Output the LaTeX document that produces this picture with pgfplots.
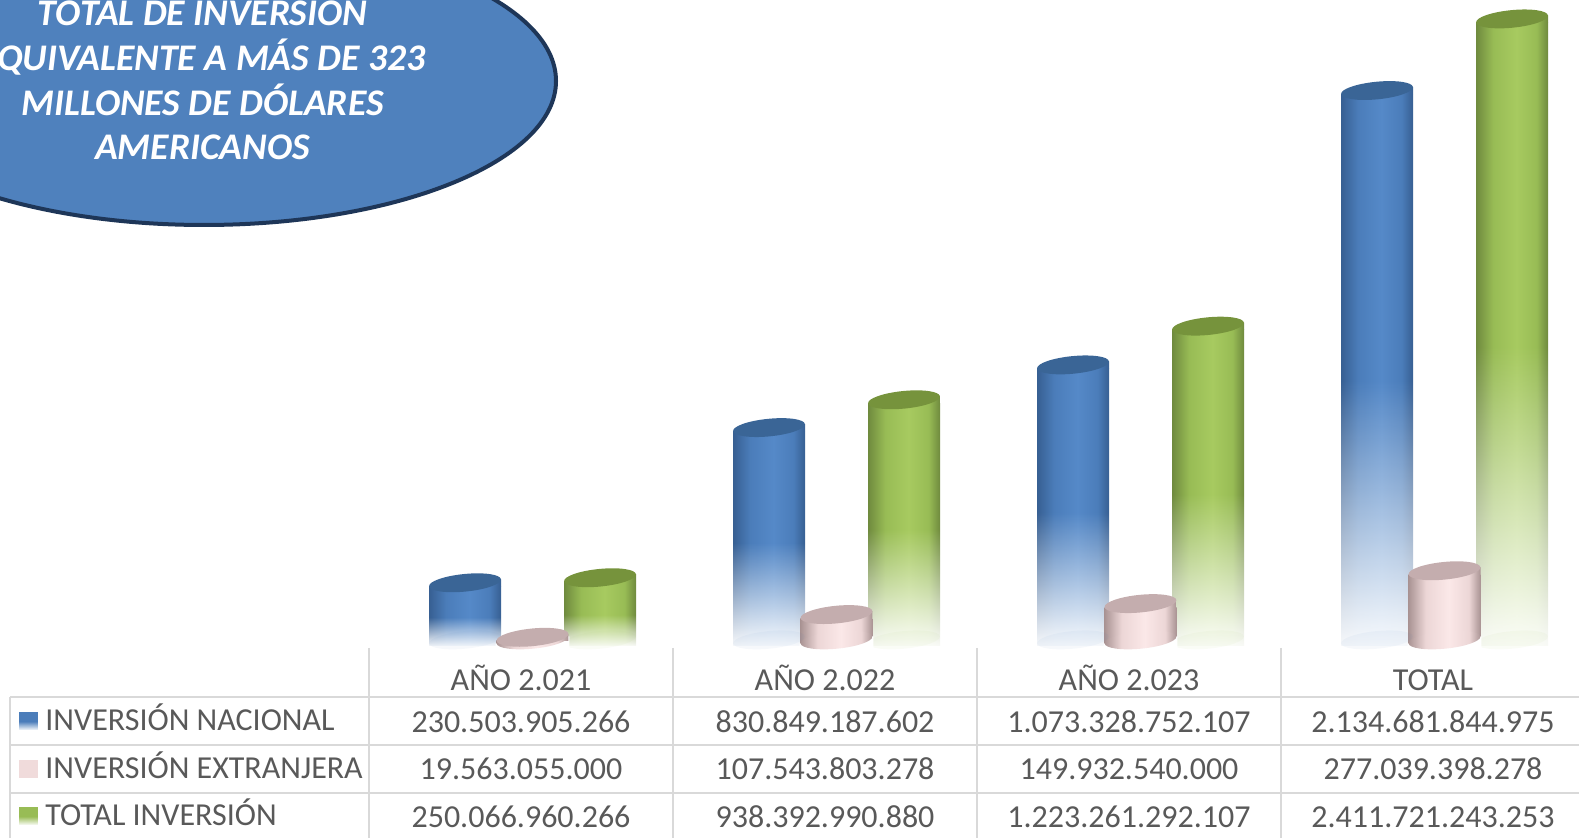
\documentclass[border=0pt]{standalone}
\usepackage{pgfplots}
\pgfplotsset{compat=1.18}
\usepackage{fontspec}
\setmainfont{Carlito}
\usetikzlibrary{fadings}
\definecolor{txt}{HTML}{595959}
\definecolor{gridc}{HTML}{D9D9D9}
\definecolor{ovalf}{HTML}{4F81BD}
\definecolor{ovald}{HTML}{1E3658}
\definecolor{bE}{HTML}{375F92}\definecolor{bM}{HTML}{4B7DBA}\definecolor{bL}{HTML}{5589C8}\definecolor{bT}{HTML}{3A6596}
\definecolor{gE}{HTML}{6F8A3E}\definecolor{gM}{HTML}{98BC55}\definecolor{gL}{HTML}{A7CA60}\definecolor{gT}{HTML}{76933C}
\definecolor{pE}{HTML}{A99393}\definecolor{pM}{HTML}{ECD6D6}\definecolor{pL}{HTML}{FBE8E8}\definecolor{pT}{HTML}{C4ADAE}
\pgfdeclarehorizontalshading{cylb}{100bp}{color(0bp)=(bE);color(25bp)=(bE);color(37bp)=(bM);color(53bp)=(bL);color(67bp)=(bM);color(75bp)=(bE);color(100bp)=(bE)}
\pgfdeclarehorizontalshading{cylg}{100bp}{color(0bp)=(gE);color(25bp)=(gE);color(37bp)=(gM);color(53bp)=(gL);color(67bp)=(gM);color(75bp)=(gE);color(100bp)=(gE)}
\pgfdeclarehorizontalshading{cylp}{100bp}{color(0bp)=(pE);color(25bp)=(pE);color(37bp)=(pM);color(53bp)=(pL);color(67bp)=(pM);color(75bp)=(pE);color(100bp)=(pE)}
\pgfdeclareverticalshading{cylfadeshade}{100bp}{rgb(0bp)=(0.04,0.04,0.04);rgb(25bp)=(0.04,0.04,0.04);rgb(49bp)=(1,1,1);rgb(100bp)=(1,1,1)}
\pgfdeclarefading{cylfade}{\pgfuseshading{cylfadeshade}}
% elliptic cap, tilted 5.6 degrees, its left end on the value
\newcommand{\tiltellipse}[1]{\pgfpathellipse{\pgfpoint{0pt}{#1}}{\pgfpoint{17.95pt}{1.76pt}}{\pgfpoint{-0.43pt}{4.38pt}}}
\newcommand{\capmark}[3]{\pgfdeclareplotmark{#1}{%
  \begin{pgfscope}\pgfpathmoveto{\pgfpoint{-18pt}{0pt}}\pgfpathlineto{\pgfpoint{18pt}{3.52pt}}\pgfpathlineto{\pgfpoint{18pt}{0pt}}\pgfpathclose
  \pgfshadepath{#2}{0}\pgfusepath{discard}\end{pgfscope}%
  \begin{pgfscope}\pgfsetfillcolor{#3}\tiltellipse{1.76pt}\pgfusepath{fill}\end{pgfscope}}}
\capmark{capb}{cylb}{bT}
\capmark{capg}{cylg}{gT}
\capmark{capp}{cylp}{pT}
\pgfdeclareplotmark{baseb}{\begin{pgfscope}\pgfsetfillcolor{bM}\pgfsetfillopacity{0.05}\tiltellipse{3pt}\pgfusepath{fill}\end{pgfscope}}
\pgfdeclareplotmark{baseg}{\begin{pgfscope}\pgfsetfillcolor{gM}\pgfsetfillopacity{0.05}\tiltellipse{3pt}\pgfusepath{fill}\end{pgfscope}}
\pgfdeclareplotmark{basep}{%
  \begin{pgfscope}\pgfsetfillcolor{white}\pgfpathmoveto{\pgfpoint{-18.4pt}{1.2pt}}\pgfpathlineto{\pgfpoint{18.4pt}{4.8pt}}\pgfpathlineto{\pgfpoint{18.4pt}{-1.5pt}}\pgfpathlineto{\pgfpoint{-18.4pt}{-1.5pt}}\pgfpathclose\pgfusepath{fill}\end{pgfscope}%
  \begin{pgfscope}\tiltellipse{3pt}\pgfshadepath{cylp}{0}\pgfusepath{discard}\end{pgfscope}}
\newcommand{\cylb}[2]{%
  \addplot[only marks,mark=baseb,forget plot] coordinates {(#1,0)};
  \addplot[ybar,bar width=36pt,bar shift=0pt,draw=none,shade,shading=cylb,path fading=cylfade,forget plot] coordinates {(#1,#2)};
  \addplot[only marks,mark=capb,forget plot] coordinates {(#1,#2)};}
\newcommand{\cylg}[2]{%
  \addplot[only marks,mark=baseg,forget plot] coordinates {(#1,0)};
  \addplot[ybar,bar width=36pt,bar shift=0pt,draw=none,shade,shading=cylg,path fading=cylfade,forget plot] coordinates {(#1,#2)};
  \addplot[only marks,mark=capg,forget plot] coordinates {(#1,#2)};}
\newcommand{\cylp}[2]{%
  \addplot[ybar,bar width=36pt,bar shift=0pt,draw=none,shade,shading=cylp,forget plot] coordinates {(#1,#2)};
  \addplot[only marks,mark=basep,forget plot] coordinates {(#1,0)};
  \addplot[only marks,mark=capp,forget plot] coordinates {(#1,#2)};}
\begin{document}
\begin{tikzpicture}
\path[use as bounding box] (0,0) rectangle (789.5pt,419pt);
\clip (0,0) rectangle (789.5pt,419pt);
\begin{scope}[shift={(0,419pt)},x=0.5pt,y=-0.5pt]
  \draw[fill=ovalf,draw=ovald,line width=2pt] (204,81) ellipse [x radius=352,y radius=144];
  \begin{scope}[every node/.style={text=white,font=\fontsize{18.8}{22}\selectfont\bfseries\itshape,anchor=base,inner sep=0pt}]
    \node at (202.5,25.5) {TOTAL DE INVERSIÓN};
    \node at (202.5,71) {EQUIVALENTE A MÁS DE 323};
    \node at (202.5,115.5) {MILLONES DE DÓLARES};
    \node at (202.5,159.5) {AMERICANOS};
  \end{scope}
\end{scope}
\begin{axis}[
  at={(184.5pt,96.05pt)},anchor=south west,
  scale only axis,width=605pt,height=322.95pt,
  xmin=-0.5,xmax=3.4803,ymin=0,ymax=2498.6,
  clip=false,
  axis line style={draw=none},
  xtick={0,1,2,3},
  xticklabels={AÑO 2.021,AÑO 2.022,AÑO 2.023,TOTAL},
  xtick style={draw=none},
  ytick=\empty,
  xticklabel style={font=\fontsize{16}{19}\selectfont,text=txt,anchor=base,yshift=-22.4pt},
]
\cylb{-0.1842}{230.504}\cylg{0.2599}{250.067}\cylp{0.0378}{19.563}
\cylb{0.8158}{830.849}\cylg{1.2599}{938.393}\cylp{1.0378}{107.544}
\cylb{1.8158}{1073.329}\cylg{2.2599}{1223.261}\cylp{2.0378}{149.933}
\cylb{2.8158}{2134.682}\cylg{3.2599}{2411.721}\cylp{3.0378}{277.039}
\end{axis}
\begin{scope}[shift={(0,419pt)},x=0.5pt,y=-0.5pt]
  \begin{scope}[gridc,line width=1pt]
    \draw (10,697) -- (1579,697);
    \draw (10,745) -- (1579,745);
    \draw (10,793) -- (1579,793);
    \draw (10,697) -- (10,838);
    \draw (369,648) -- (369,838);
    \draw (673,648) -- (673,838);
    \draw (977,648) -- (977,838);
    \draw (1281,648) -- (1281,838);
  \end{scope}
  \fill[bM,path fading=cylfade] (19,712) rectangle (38,730);
  \fill[pM!70!pL] (19,760) rectangle (38,778);
  \fill[gM,path fading=cylfade] (19,807) rectangle (38,825);
  \begin{scope}[every node/.style={text=txt,font=\fontsize{16}{19}\selectfont,anchor=base,inner sep=0pt}]
    \node[anchor=base west] at (45,731) {INVERSIÓN NACIONAL};
    \node[anchor=base west] at (45,778.5) {INVERSIÓN EXTRANJERA};
    \node[anchor=base west] at (45,826) {TOTAL INVERSIÓN};
    \node at (521,732.5) {230.503.905.266};
    \node at (825,732.5) {830.849.187.602};
    \node at (1129,732.5) {1.073.328.752.107};
    \node at (1433,732.5) {2.134.681.844.975};
    \node at (521,780) {19.563.055.000};
    \node at (825,780) {107.543.803.278};
    \node at (1129,780) {149.932.540.000};
    \node at (1433,780) {277.039.398.278};
    \node at (521,828) {250.066.960.266};
    \node at (825,828) {938.392.990.880};
    \node at (1129,828) {1.223.261.292.107};
    \node at (1433,828) {2.411.721.243.253};
  \end{scope}
\end{scope}
\end{tikzpicture}
\end{document}
